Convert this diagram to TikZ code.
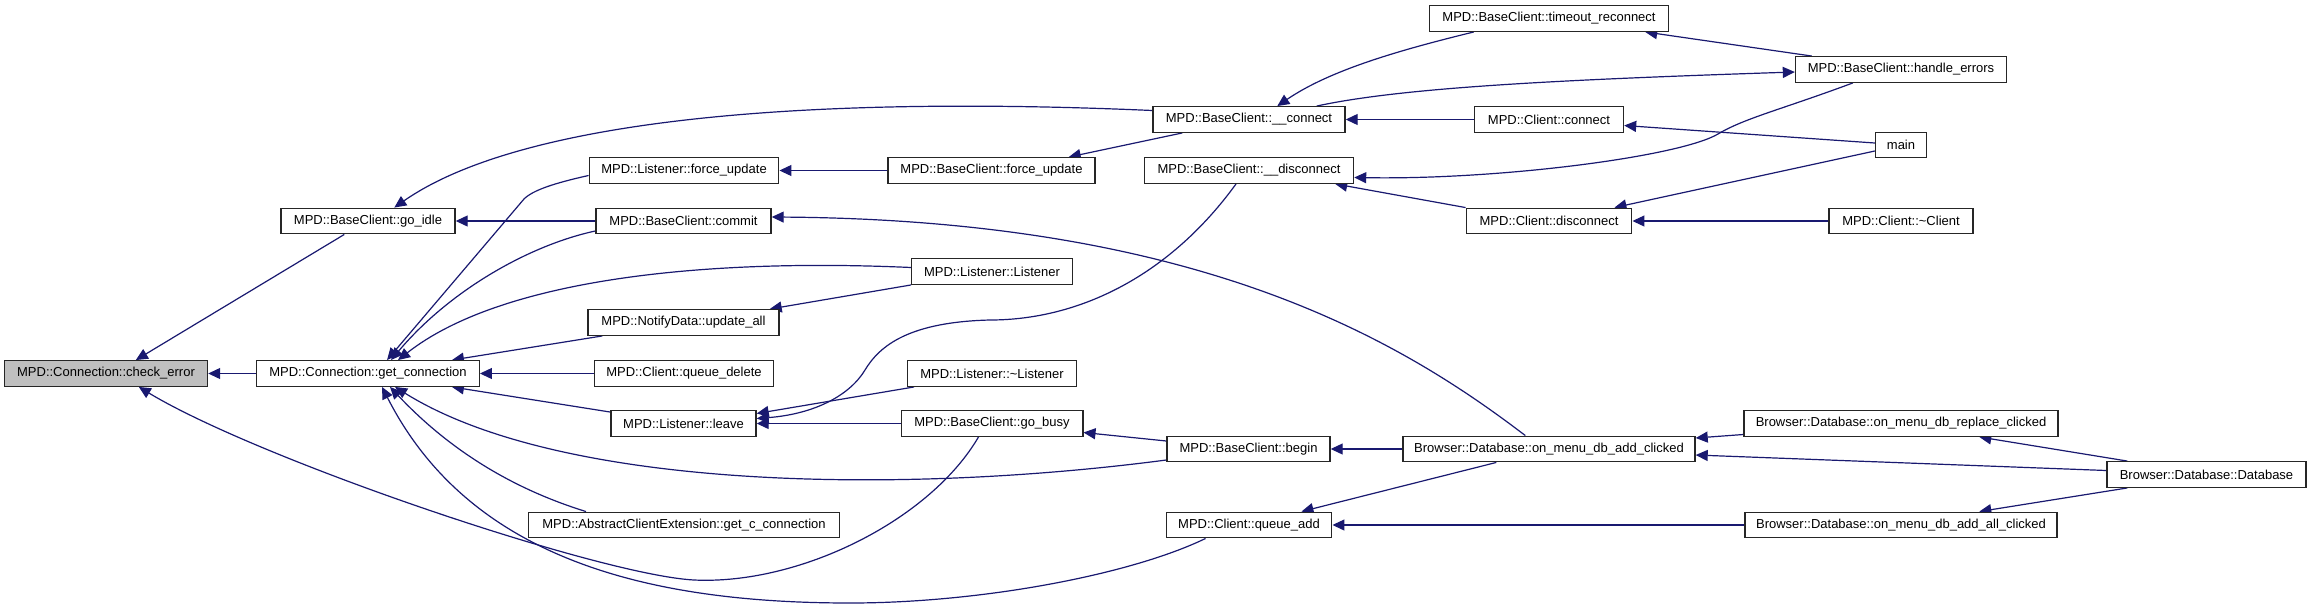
\documentclass[tikz,border=0pt]{standalone}
\usepackage{fontspec}
\setmainfont{Liberation Sans}
\usetikzlibrary{arrows.meta,calc}
\definecolor{mblue}{HTML}{191970}
\definecolor{boxgrey}{HTML}{BFBFBF}
\pgfdeclarelayer{back}
\pgfdeclarelayer{edges}
\pgfsetlayers{back,edges,main}
\begin{document}
\begin{tikzpicture}[x=1pt,y=-1pt,
  fn/.style={draw=black!85, line width=1.4pt, fill=white, minimum height=25.5pt, inner sep=0pt, font=\fontsize{13}{15}\selectfont, text=black},
  edge/.style={draw=mblue, line width=1.2pt, -{Triangle[length=12pt,width=11pt]}},
]
\begin{pgfonlayer}{back}
\fill[white] (0,0) rectangle (2312,608);
\end{pgfonlayer}
\useasboundingbox (0,0) rectangle (2312,608);
% nodes
\node[fn,fill=boxgrey,minimum width=203pt] (ce) at (106,373.5) {MPD::Connection::check\_error};
\node[fn,minimum width=174pt] (gi) at (368,221) {MPD::BaseClient::go\_idle};
\node[fn,minimum width=222.5pt] (gc) at (368,373.5) {MPD::Connection::get\_connection};
\node[fn,minimum width=189.5pt] (lfu) at (684,170.5) {MPD::Listener::force\_update};
\node[fn,minimum width=175pt] (cm) at (683.5,221) {MPD::BaseClient::commit};
\node[fn,minimum width=191pt] (ua) at (683.5,322.5) {MPD::NotifyData::update\_all};
\node[fn,minimum width=178.5pt] (qd) at (684,373.5) {MPD::Client::queue\_delete};
\node[fn,minimum width=145pt] (lv) at (683.5,423.5) {MPD::Listener::leave};
\node[fn,minimum width=310.5pt] (acx) at (684,525) {MPD::AbstractClientExtension::get\_c\_connection};
\node[fn,minimum width=207pt] (bfu) at (991.5,170.5) {MPD::BaseClient::force\_update};
\node[fn,minimum width=160.5pt] (ll) at (992,271.5) {MPD::Listener::Listener};
\node[fn,minimum width=168.5pt] (dl) at (992,373.5) {MPD::Listener::\textasciitilde Listener};
\node[fn,minimum width=181.6pt] (gb) at (992,423.5) {MPD::BaseClient::go\_busy};
\node[fn,minimum width=192pt] (cn) at (1249,119.5) {MPD::BaseClient::\_\_connect};
\node[fn,minimum width=209pt] (dc) at (1249,170.5) {MPD::BaseClient::\_\_disconnect};
\node[fn,minimum width=163pt] (bg) at (1248.5,449) {MPD::BaseClient::begin};
\node[fn,minimum width=165.5pt] (qa) at (1249,525) {MPD::Client::queue\_add};
\node[fn,minimum width=239pt] (tr) at (1549,18.5) {MPD::BaseClient::timeout\_reconnect};
\node[fn,minimum width=149pt] (ccn) at (1549,119.5) {MPD::Client::connect};
\node[fn,minimum width=165.5pt] (cdc) at (1549,221) {MPD::Client::disconnect};
\node[fn,minimum width=292pt] (oac) at (1549,449) {Browser::Database::on\_menu\_db\_add\_clicked};
\node[fn,minimum width=211pt] (he) at (1901,69.5) {MPD::BaseClient::handle\_errors};
\node[fn,minimum width=51pt] (mn) at (1901,145) {main};
\node[fn,minimum width=144pt] (dcl) at (1901,221) {MPD::Client::\textasciitilde Client};
\node[fn,minimum width=314pt] (orc) at (1901,423.5) {Browser::Database::on\_menu\_db\_replace\_clicked};
\node[fn,minimum width=312pt] (oaa) at (1901,525) {Browser::Database::on\_menu\_db\_add\_all\_clicked};
\node[fn,minimum width=199pt] (db) at (2206.5,474.5) {Browser::Database::Database};
% edges
\begin{pgfonlayer}{edges}
\draw[edge] ($(gi.south west)+(64,0)$) -- ($(ce.north west)+(132,0)$);
\draw[edge] (gc.west) -- (ce.east);
\draw[edge] ($(gb.south west)+(78,0)$) .. controls (930,520) and (800,585) .. (694,580) .. controls (600,575) and (260,460) .. ($(ce.south west)+(135,0)$);
\draw[edge] ($(cn.west)+(0,-9)$) .. controls (800,95) and (520,120) .. ($(gi.north west)+(114,0)$);
\draw[edge] (cm.west) -- (gi.east);
\draw[edge] ($(lfu.west)+(0,5)$) .. controls (555,183) and (533,190) .. (524,199) -- ($(gc.north west)+(131,0)$);
\draw[edge] ($(cm.west)+(0,10)$) .. controls (530,245) and (450,290) .. ($(gc.north west)+(135,0)$);
\draw[edge] ($(ll.west)+(0,-4)$) .. controls (700,258) and (500,280) .. ($(gc.north west)+(142,0)$);
\draw[edge] ($(ua.south west)+(15,0)$) -- ($(gc.north east)+(-28,0)$);
\draw[edge] (qd.west) -- (gc.east);
\draw[edge] ($(lv.north west)+(0,2)$) -- ($(gc.south east)+(-28,0)$);
\draw[edge] ($(bg.west)+(0,11)$) .. controls (900,495) and (560,490) .. ($(gc.south west)+(139,0)$);
\draw[edge] ($(acx.north west)+(58,0)$) .. controls (500,485) and (440,440) .. ($(gc.south west)+(134,0)$);
\draw[edge] ($(qa.south west)+(40,0)$) .. controls (1130,575) and (980,603) .. (850,603) .. controls (650,603) and (470,560) .. ($(gc.south west)+(126,0)$);
\draw[edge] ($(bg.west)+(0,-8)$) -- ($(gb.east)+(0,9)$);
\draw[edge] ($(dl.south west)+(7,0)$) -- ($(lv.east)+(0,-10)$);
\draw[edge] ($(dc.south)+(-13,0)$) .. controls (1170,275) and (1080,320) .. (990,320) .. controls (910,322) and (880,345) .. (865,370) .. controls (850,395) and (815,414) .. ($(lv.east)+(0,-5)$);
\draw[edge] (gb.west) -- (lv.east);
\draw[edge] (bfu.west) -- (lfu.east);
\draw[edge] ($(cn.south west)+(30,0)$) -- ($(bfu.north east)+(-27,0)$);
\draw[edge] ($(oac.north west)+(123,0)$) .. controls (1400,340) and (1200,220) .. ($(cm.east)+(0,-4)$);
\draw[edge] ($(tr.south west)+(45,0)$) .. controls (1400,50) and (1330,70) .. ($(cn.north west)+(125,0)$);
\draw[edge] (ccn.west) -- (cn.east);
\draw[edge] ($(cn.north east)+(-29,0)$) .. controls (1400,88) and (1550,80) .. ($(he.west)+(0,2.5)$);
\draw[edge] ($(he.north west)+(17,0)$) -- ($(tr.south east)+(-24,0)$);
\draw[edge] ($(he.south west)+(58,0)$) .. controls (1780,110) and (1745,118) .. (1718,134) .. controls (1680,156.5) and (1500,180) .. ($(dc.east)+(0,7)$);
\draw[edge] (cdc.north west) -- ($(dc.south east)+(-19,0)$);
\draw[edge] ($(mn.west)+(0,-2)$) -- ($(ccn.east)+(0,6)$);
\draw[edge] ($(mn.west)+(0,6)$) -- ($(cdc.north east)+(-18,0)$);
\draw[edge] (dcl.west) -- (cdc.east);
\draw[edge] (oac.west) -- (bg.east);
\draw[edge] ($(orc.west)+(0,11)$) -- ($(oac.east)+(0,-11)$);
\draw[edge] ($(db.west)+(0,-4)$) -- ($(oac.east)+(0,6)$);
\draw[edge] ($(db.north west)+(21,0)$) -- ($(orc.south west)+(236,0)$);
\draw[edge] ($(db.south west)+(21,0)$) -- ($(oaa.north west)+(235,0)$);
\draw[edge] ($(oac.south west)+(94,0)$) -- ($(qa.north east)+(-31,0)$);
\draw[edge] (oaa.west) -- (qa.east);
\draw[edge] (ll.south west) -- ($(ua.north east)+(-10,0)$);
\end{pgfonlayer}
\end{tikzpicture}
\end{document}
